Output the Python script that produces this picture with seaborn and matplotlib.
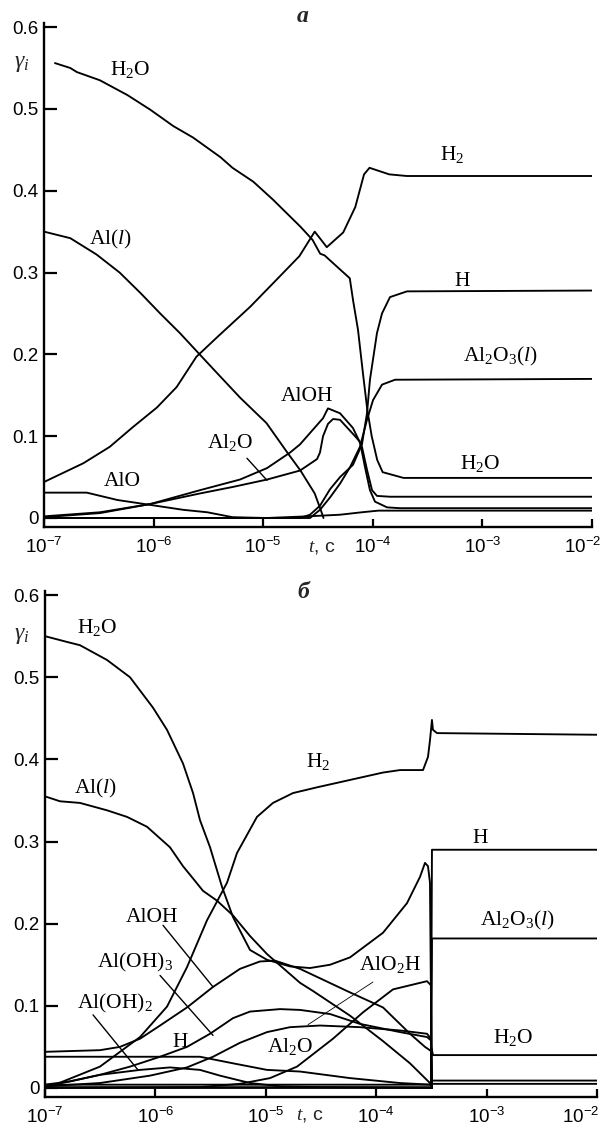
import numpy as np
import pandas as pd
import matplotlib
matplotlib.use("Agg")
import matplotlib.pyplot as plt
import seaborn as sns
from matplotlib.ticker import FixedLocator, NullLocator, FuncFormatter

# ---------------------------------------------------------------------------
# Mole fractions gamma_i versus time; time given as log10(t, s)
# ---------------------------------------------------------------------------
# panel "a"
a_h2o_lt = [-6.90, -6.76, -6.70, -6.49, -6.24, -6.03, -5.82, -5.64, -5.39, -5.28, -5.09, -4.91, -4.66,
            -4.55, -4.48, -4.44, -4.35, -4.21, -4.18, -4.135, -4.09, -4.05, -4.01, -3.96, -3.91, -3.72, -2.0]
a_h2o_g = [0.556, 0.550, 0.545, 0.535, 0.517, 0.499, 0.479, 0.465, 0.441, 0.428, 0.411, 0.389, 0.356,
           0.340, 0.323, 0.321, 0.310, 0.293, 0.266, 0.230, 0.177, 0.132, 0.100, 0.071, 0.056, 0.049, 0.049]

a_h2_lt = [-7.0, -6.64, -6.40, -6.19, -5.97, -5.79, -5.61, -5.42, -5.12, -4.88, -4.67, -4.53, -4.46,
           -4.42, -4.27, -4.16, -4.08, -4.03, -3.94, -3.85, -3.69, -2.0]
a_h2_g = [0.044, 0.067, 0.087, 0.111, 0.135, 0.160, 0.197, 0.221, 0.258, 0.291, 0.320, 0.350, 0.338,
          0.331, 0.349, 0.380, 0.420, 0.428, 0.424, 0.420, 0.418, 0.418]

a_al_lt = [-7.0, -6.76, -6.52, -6.31, -6.12, -5.94, -5.76, -5.58, -5.42, -5.21, -4.97, -4.78, -4.66,
           -4.53, -4.47, -4.45]
a_al_g = [0.350, 0.342, 0.322, 0.300, 0.275, 0.250, 0.226, 0.200, 0.177, 0.147, 0.116, 0.080, 0.058,
          0.030, 0.008, 0.0]

a_alo_lt = [-7.0, -6.61, -6.33, -6.03, -5.73, -5.51, -5.28, -4.97, -4.60, -4.30, -4.10, -3.95, -3.85, -2.0]
a_alo_g = [0.031, 0.031, 0.022, 0.016, 0.010, 0.007, 0.001, 0.000, 0.002, 0.004, 0.007, 0.009, 0.009, 0.009]

a_al2o_lt = [-7.0, -6.489, -6.033, -5.577, -5.276, -4.965, -4.664, -4.509, -4.482, -4.454, -4.409, -4.363,
             -4.299, -4.162, -4.117, -4.071, -4.026, -3.980, -3.870, -3.752, -2.0]
a_al2o_g = [0.001, 0.006, 0.017, 0.030, 0.038, 0.047, 0.058, 0.072, 0.080, 0.100, 0.115, 0.121,
            0.120, 0.100, 0.093, 0.062, 0.034, 0.020, 0.013, 0.012, 0.012]

a_aloh_lt = [-7.0, -6.489, -6.033, -5.577, -5.212, -4.965, -4.755, -4.664, -4.454, -4.409, -4.299, -4.181,
             -4.099, -4.053, -4.007, -3.962, -3.843, -2.0]
a_aloh_g = [0.002, 0.007, 0.017, 0.034, 0.047, 0.061, 0.080, 0.090, 0.122, 0.134, 0.128, 0.110,
            0.087, 0.059, 0.034, 0.027, 0.026, 0.026]

a_h_lt = [-7.0, -4.664, -4.573, -4.482, -4.391, -4.299, -4.181, -4.099, -4.053, -4.026, -3.962, -3.916,
          -3.843, -3.688, -2.0]
a_h_g = [0.0, 0.0, 0.004, 0.015, 0.035, 0.050, 0.065, 0.090, 0.128, 0.169, 0.226, 0.250,
         0.270, 0.277, 0.278]

a_al2o3_lt = [-7.0, -4.573, -4.482, -4.391, -4.299, -4.208, -4.117, -4.053, -3.998, -3.916, -3.797, -2.0]
a_al2o3_g = [0.0, 0.0, 0.010, 0.025, 0.042, 0.062, 0.087, 0.120, 0.144, 0.163, 0.169, 0.170]

# panel "б"
b_h2o_lt = [-7.0, -6.801, -6.683, -6.438, -6.230, -6.022, -5.895, -5.750, -5.659, -5.596, -5.505, -5.397,
            -5.297, -5.143, -4.989, -4.781, -4.600, -4.418, -4.237, -3.938, -3.721, -3.603, -3.558, -3.531,
            -3.513, -3.500, -3.486, -2.0]
b_h2o_g = [0.550, 0.543, 0.539, 0.521, 0.500, 0.463, 0.436, 0.395, 0.359, 0.326, 0.293, 0.245,
           0.208, 0.168, 0.156, 0.148, 0.146, 0.150, 0.159, 0.189, 0.225, 0.257, 0.274, 0.270,
           0.250, 0.050, 0.040, 0.040]

b_al_lt = [-7.0, -6.864, -6.683, -6.438, -6.257, -6.076, -5.868, -5.750, -5.659, -5.569, -5.442, -5.297,
           -5.143, -4.989, -4.690, -4.572, -4.237, -3.938, -3.694, -3.513, -3.495]
b_al_g = [0.355, 0.349, 0.347, 0.338, 0.330, 0.318, 0.293, 0.270, 0.255, 0.240, 0.228, 0.210,
          0.185, 0.163, 0.128, 0.118, 0.088, 0.057, 0.030, 0.006, 0.0]

b_h2_lt = [-7.0, -6.928, -6.502, -6.139, -5.895, -5.714, -5.533, -5.351, -5.261, -5.080, -4.935, -4.754,
           -4.536, -4.237, -3.938, -3.784, -3.576, -3.531, -3.513, -3.495, -3.486, -3.449, -2.0]
b_h2_g = [0.001, 0.003, 0.026, 0.062, 0.099, 0.147, 0.204, 0.250, 0.286, 0.330, 0.347, 0.359,
          0.366, 0.375, 0.384, 0.387, 0.387, 0.403, 0.423, 0.448, 0.436, 0.432, 0.430]

b_aloh_lt = [-7.0, -6.502, -6.321, -6.139, -5.958, -5.714, -5.478, -5.234, -5.053, -4.917, -4.690, -4.264,
             -3.938, -3.694, -3.558, -3.504, -3.495]
b_aloh_g = [0.044, 0.046, 0.050, 0.060, 0.076, 0.098, 0.123, 0.145, 0.154, 0.155, 0.145, 0.118,
            0.098, 0.066, 0.050, 0.045, 0.0]

b_aloh3_lt = [-7.0, -6.774, -6.502, -6.230, -5.958, -5.714, -5.505, -5.297, -5.143, -4.871, -4.690, -4.418,
              -4.147, -3.784, -3.540, -3.504, -3.495]
b_aloh3_g = [0.004, 0.008, 0.016, 0.026, 0.038, 0.050, 0.066, 0.085, 0.093, 0.096, 0.095, 0.090,
             0.078, 0.068, 0.062, 0.058, 0.0]

b_al2o_lt = [-7.0, -6.502, -6.049, -5.714, -5.478, -5.234, -4.989, -4.781, -4.509, -4.147, -3.784, -3.540,
             -3.504, -3.495]
b_al2o_g = [0.002, 0.006, 0.015, 0.025, 0.038, 0.055, 0.068, 0.074, 0.076, 0.074, 0.070, 0.066,
            0.060, 0.0]

b_aloh2_lt = [-7.0, -6.774, -6.502, -6.139, -5.868, -5.596, -5.415, -5.143, -4.871, -4.509, -3.495]
b_aloh2_g = [0.002, 0.008, 0.016, 0.022, 0.025, 0.022, 0.015, 0.006, 0.002, 0.001, 0.0]

b_alo2h_lt = [-7.0, -5.596, -5.234, -4.962, -4.717, -4.391, -4.120, -3.848, -3.540, -3.504, -3.495]
b_alo2h_g = [0.0, 0.001, 0.005, 0.012, 0.026, 0.060, 0.092, 0.120, 0.130, 0.125, 0.0]

b_h_lt = [-7.0, -5.596, -5.297, -4.989, -4.690, -4.237, -3.784, -3.504, -3.495, -2.0]
b_h_g = [0.038, 0.038, 0.030, 0.022, 0.020, 0.012, 0.006, 0.004, 0.290, 0.290]

b_al2o3_lt = [-7.0, -3.504, -3.495, -2.0]
b_al2o3_g = [0.0, 0.0, 0.182, 0.182]

b_minor1_lt = [-7.0, -3.504, -3.495, -2.0]
b_minor1_g = [0.004, 0.004, 0.009, 0.009]
b_minor2_lt = [-7.0, -3.504, -3.495, -2.0]
b_minor2_g = [0.001, 0.001, 0.005, 0.005]

# axis ticks
x_tick_exponents = [-7, -6, -5, -4, -3, -2]
y_ticks = [0.0, 0.1, 0.2, 0.3, 0.4, 0.5, 0.6]
y_tick_labels = ["0", "0.1", "0.2", "0.3", "0.4", "0.5", "0.6"]


def frame(panel, name, lt, g):
    return pd.DataFrame({"t": 10.0 ** np.asarray(lt, dtype=float),
                         "gamma": np.asarray(g, dtype=float),
                         "species": name, "panel": panel})


data = pd.concat([
    frame("a", "H2O", a_h2o_lt, a_h2o_g),
    frame("a", "H2", a_h2_lt, a_h2_g),
    frame("a", "Al(l)", a_al_lt, a_al_g),
    frame("a", "AlO", a_alo_lt, a_alo_g),
    frame("a", "Al2O", a_al2o_lt, a_al2o_g),
    frame("a", "AlOH", a_aloh_lt, a_aloh_g),
    frame("a", "H", a_h_lt, a_h_g),
    frame("a", "Al2O3(l)", a_al2o3_lt, a_al2o3_g),
    frame("b", "H2O", b_h2o_lt, b_h2o_g),
    frame("b", "Al(l)", b_al_lt, b_al_g),
    frame("b", "H2", b_h2_lt, b_h2_g),
    frame("b", "AlOH", b_aloh_lt, b_aloh_g),
    frame("b", "Al(OH)3", b_aloh3_lt, b_aloh3_g),
    frame("b", "Al2O", b_al2o_lt, b_al2o_g),
    frame("b", "Al(OH)2", b_aloh2_lt, b_aloh2_g),
    frame("b", "AlO2H", b_alo2h_lt, b_alo2h_g),
    frame("b", "H", b_h_lt, b_h_g),
    frame("b", "Al2O3(l)", b_al2o3_lt, b_al2o3_g),
    frame("b", "minor1", b_minor1_lt, b_minor1_g),
    frame("b", "minor2", b_minor2_lt, b_minor2_g),
], ignore_index=True)

# curve labels: (text, log10 t, gamma)
labels_a = [
    ("H$_2$O", -6.215, 0.548),
    ("H$_2$", -3.277, 0.444),
    ("Al($\\mathit{l}$)", -6.398, 0.340),
    ("H", -3.186, 0.289),
    ("Al$_2$O$_3$($\\mathit{l}$)", -2.840, 0.198),
    ("AlOH", -4.600, 0.148),
    ("Al$_2$O", -5.303, 0.092),
    ("AlO", -6.288, 0.044),
    ("H$_2$O", -3.022, 0.067),
]
labels_b = [
    ("H$_2$O", -6.529, 0.561),
    ("Al($\\mathit{l}$)", -6.547, 0.365),
    ("H$_2$", -4.527, 0.397),
    ("H", -3.060, 0.304),
    ("Al$_2$O$_3$($\\mathit{l}$)", -2.725, 0.204),
    ("AlO$_2$H", -3.875, 0.150),
    ("H$_2$O", -2.761, 0.061),
    ("AlOH", -6.031, 0.208),
    ("Al(OH)$_3$", -6.185, 0.153),
    ("Al(OH)$_2$", -6.366, 0.103),
    ("H", -5.777, 0.055),
    ("Al$_2$O", -4.781, 0.050),
]
# leader lines: ((log10 t, gamma) start, (log10 t, gamma) end, width)
leaders_a = [((-5.148, 0.073), (-4.965, 0.046), 1.0)]
leaders_b = [
    ((-5.931, 0.198), (-5.478, 0.123), 1.0),
    ((-5.958, 0.137), (-5.478, 0.064), 1.0),
    ((-6.565, 0.089), (-6.158, 0.022), 1.0),
    ((-4.029, 0.129), (-4.618, 0.077), 0.6),
]

# ---------------------------------------------------------------------------
sns.set_style("ticks")
plt.rcParams["font.family"] = ["Liberation Sans", "DejaVu Sans"]
plt.rcParams["mathtext.fontset"] = "custom"
plt.rcParams["mathtext.rm"] = "Liberation Serif"
plt.rcParams["mathtext.it"] = "Liberation Serif:italic"
plt.rcParams["mathtext.bf"] = "Liberation Serif:bold"
plt.rcParams["mathtext.default"] = "regular"

W, H = 603, 1132
fig = plt.figure(figsize=(W / 100, H / 100), dpi=100)

ax_a = fig.add_axes([44 / W, 1 - 527 / H, 548 / W, 504 / H])
ax_b = fig.add_axes([45 / W, 1 - 1097 / H, 552 / W, 506 / H])

serif = ["Liberation Serif", "DejaVu Serif"]
x_ticks = [10.0 ** e for e in x_tick_exponents]
last_exp = x_tick_exponents[-1]


def decade_label(value, pos):
    e = int(round(np.log10(value)))
    if e == last_exp:
        return ""  # the right-most decade label is placed separately, flush to the edge
    return "$\\mathdefault{10^{%d}}$" % e


for ax, panel, labels, leaders, last_dx in [(ax_a, "a", labels_a, leaders_a, 6.5),
                                            (ax_b, "b", labels_b, leaders_b, 1.5)]:
    sub = data[data["panel"] == panel]
    sns.lineplot(data=sub, x="t", y="gamma", units="species", estimator=None,
                 sort=False, color="black", linewidth=1.35, legend=False, ax=ax)
    ax.set_xscale("log")
    ax.set_xlim(x_ticks[0], x_ticks[-1])
    ax.set_ylim(-0.011, 0.605)
    ax.xaxis.set_major_locator(FixedLocator(x_ticks))
    ax.xaxis.set_major_formatter(FuncFormatter(decade_label))
    ax.xaxis.set_minor_locator(NullLocator())
    ax.set_yticks(y_ticks)
    ax.set_yticklabels(y_tick_labels)
    ax.set_xlabel("")
    ax.set_ylabel("")
    sns.despine(ax=ax)
    for side in ("left", "bottom"):
        ax.spines[side].set_linewidth(1.7)
        ax.spines[side].set_color("black")
    ax.tick_params(axis="y", direction="in", length=9, width=1.6, labelsize=13.5, pad=4,
                   colors="black")
    ax.tick_params(axis="x", direction="in", length=6, width=1.6, labelsize=13.5, pad=7,
                   colors="black")
    ax.annotate("$\\mathdefault{10^{%d}}$" % last_exp, xy=(1.0, 0.0), xycoords="axes fraction",
                xytext=(last_dx, -7), textcoords="offset points", ha="right", va="top",
                fontsize=13.5, color="black")
    for txt, lt, g in labels:
        ax.text(10.0 ** lt, g, txt, family=serif, fontsize=15.5, ha="center", va="center",
                color="black")
    for (lt0, g0), (lt1, g1), lw in leaders:
        ax.plot([10.0 ** lt0, 10.0 ** lt1], [g0, g1], color="black", linewidth=lw)

# panel letters, axis labels
fig.text(303 / W, 1 - 16 / H, "a", family=serif, fontsize=17, style="italic",
         weight="bold", ha="center", va="center")
fig.text(303 / W, 1 - 592 / H, "б", family=serif, fontsize=17, style="italic",
         weight="bold", ha="center", va="center")
for ypix in (63, 635):
    fig.text(22 / W, 1 - ypix / H, "$\\mathit{\\gamma}_{\\mathit{i}}$", family=serif,
             fontsize=17, ha="center", va="center")
fig.text(322 / W, 1 - 547 / H, "$\\mathit{t}$, с", fontsize=14, ha="center", va="center")
fig.text(310 / W, 1 - 1115 / H, "$\\mathit{t}$, с", fontsize=14, ha="center", va="center")

fig.savefig("out.png", dpi=100)
